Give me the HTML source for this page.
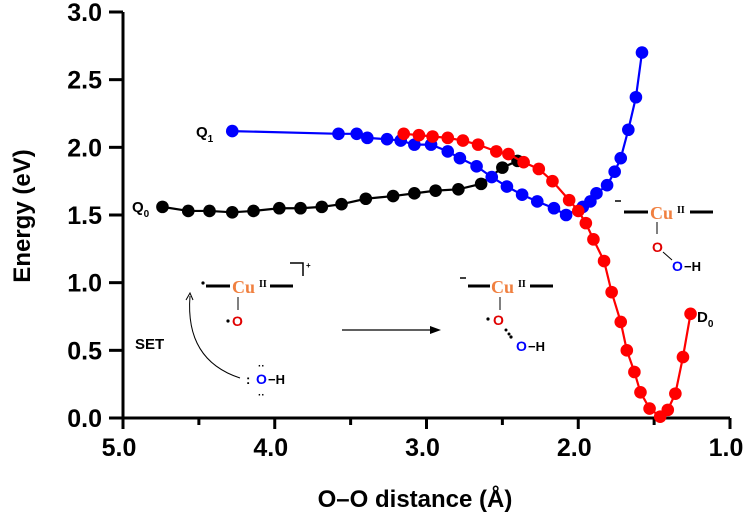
<!DOCTYPE html>
<html><head><meta charset="utf-8"><style>
html,body{margin:0;padding:0;background:#fff}
svg{display:block}
.ss{font-family:"Liberation Sans",sans-serif}
.sf{font-family:"Liberation Serif",serif}
</style></head><body>
<svg id="chart" width="750" height="526" viewBox="0 0 750 526" xmlns="http://www.w3.org/2000/svg">
<g id="axes" class="ss"></g>
<g id="series"></g>
<g id="annot" font-weight="bold" class="ss">
  <text x="196" y="137" font-size="15">Q<tspan font-size="10" dy="5">1</tspan></text>
  <text x="132" y="212" font-size="15">Q<tspan font-size="10" dy="5">0</tspan></text>
  <text x="697" y="322" font-size="15">D<tspan font-size="10" dy="5">0</tspan></text>
  <!-- left complex -->
  <circle cx="203" cy="283" r="1.6" fill="#000"/>
  <line x1="206" y1="286" x2="230" y2="286" stroke="#000" stroke-width="3"/>
  <text x="232" y="293" font-size="18" fill="#f08040" class="sf">Cu</text>
  <text x="259" y="287" font-size="10" class="sf">II</text>
  <line x1="270" y1="286" x2="293" y2="286" stroke="#000" stroke-width="3"/>
  <path d="M290 263 H303 V276" fill="none" stroke="#000" stroke-width="1.5"/>
  <text x="306" y="268" font-size="8">+</text>
  <line x1="238" y1="297" x2="238" y2="310" stroke="#000" stroke-width="1"/>
  <circle cx="228" cy="321" r="1.6" fill="#000"/>
  <text x="232" y="326" font-size="14" fill="#e00000">O</text>
  <text x="135" y="349" font-size="15">SET</text>
  <path d="M240 378 Q185 360 190 296" fill="none" stroke="#000" stroke-width="1"/>
  <path d="M186 300 L190 293 L193 300" fill="none" stroke="#000" stroke-width="1"/>
  <text x="246" y="384" font-size="13">:</text>
  <text x="256" y="384" font-size="14" fill="#0000ff">O</text>
  <text x="268" y="384" font-size="13">−H</text>
  <text x="258" y="369" font-size="10">··</text>
  <text x="258" y="398" font-size="10">··</text>
  <!-- arrow -->
  <line x1="342" y1="330" x2="436" y2="330" stroke="#000" stroke-width="1.2"/>
  <path d="M430 326 L441 330 L430 334 Z" fill="#000"/>
  <!-- middle complex -->
  <line x1="460" y1="278" x2="466" y2="278" stroke="#000" stroke-width="1.5"/>
  <line x1="468" y1="286" x2="490" y2="286" stroke="#000" stroke-width="3"/>
  <text x="491" y="293" font-size="18" fill="#f08040" class="sf">Cu</text>
  <text x="518" y="287" font-size="10" class="sf">II</text>
  <line x1="530" y1="286" x2="553" y2="286" stroke="#000" stroke-width="3"/>
  <line x1="500" y1="297" x2="500" y2="310" stroke="#000" stroke-width="1"/>
  <circle cx="488" cy="319" r="1.6" fill="#000"/>
  <text x="493" y="325" font-size="14" fill="#e00000">O</text>
  <circle cx="506" cy="330" r="1.5" fill="#000"/>
  <circle cx="509" cy="334" r="1.5" fill="#000"/>
  <circle cx="511" cy="337" r="1.6" fill="#000"/>
  <text x="516" y="351" font-size="14" fill="#0000ff">O</text>
  <text x="528" y="351" font-size="13">−H</text>
  <!-- right complex -->
  <line x1="615" y1="201" x2="621" y2="201" stroke="#000" stroke-width="1.5"/>
  <line x1="624" y1="212" x2="648" y2="212" stroke="#000" stroke-width="3"/>
  <text x="650" y="219" font-size="18" fill="#f08040" class="sf">Cu</text>
  <text x="677" y="213" font-size="10" class="sf">II</text>
  <line x1="690" y1="212" x2="713" y2="212" stroke="#000" stroke-width="3"/>
  <line x1="657" y1="222" x2="657" y2="234" stroke="#000" stroke-width="1"/>
  <text x="652" y="252" font-size="14" fill="#e00000">O</text>
  <line x1="663" y1="252" x2="672" y2="260" stroke="#000" stroke-width="1"/>
  <text x="672" y="271" font-size="14" fill="#0000ff">O</text>
  <text x="684" y="271" font-size="13">−H</text>
</g>
</svg>
<script>
const ticksX = [5.0, 4.0, 3.0, 2.0, 1.0];
const minorX = [4.5, 3.5, 2.5, 1.5];
const ticksY = [0.0, 0.5, 1.0, 1.5, 2.0, 2.5, 3.0];
const q0X = [4.74,4.57,4.43,4.28,4.14,3.97,3.83,3.69,3.56,3.40,3.22,3.08,2.94,2.79,2.64,2.50,2.40];
const q0Y = [1.56,1.53,1.53,1.52,1.53,1.55,1.55,1.56,1.58,1.62,1.64,1.66,1.68,1.69,1.73,1.85,1.90];
const q1X = [4.28,3.58,3.46,3.39,3.26,3.17,3.08,2.97,2.86,2.78,2.67,2.57,2.47,2.37,2.27,2.16,2.08,1.97,1.92,1.88,1.81,1.76,1.72,1.67,1.62,1.58];
const q1Y = [2.12,2.10,2.10,2.07,2.06,2.05,2.02,2.02,1.97,1.92,1.86,1.78,1.71,1.65,1.60,1.55,1.50,1.56,1.60,1.66,1.72,1.82,1.92,2.13,2.37,2.70];
const d0X = [3.15,3.05,2.96,2.86,2.76,2.66,2.54,2.46,2.36,2.26,2.17,2.06,2.00,1.95,1.90,1.83,1.78,1.72,1.68,1.63,1.59,1.53,1.46,1.41,1.36,1.31,1.26];
const d0Y = [2.10,2.09,2.08,2.07,2.05,2.02,1.97,1.95,1.89,1.84,1.75,1.61,1.53,1.44,1.32,1.16,0.93,0.71,0.50,0.34,0.19,0.07,0.01,0.06,0.18,0.45,0.77];

const X0=123, X1=730, Y0=418, Y1=12;
function sx(v){return X0+(5-v)/4*(X1-X0);}
function sy(v){return Y0-v/3*(Y0-Y1);}
const NS="http://www.w3.org/2000/svg";
function mk(tag,attrs,parent){const e=document.createElementNS(NS,tag);for(const k in attrs)e.setAttribute(k,attrs[k]);parent.appendChild(e);return e;}
const axes=document.getElementById('axes');
let l=mk('line',{x1:X0,y1:Y0,x2:X1,y2:Y0,stroke:'#000','stroke-width':3},axes);


l=mk('line',{x1:X0,y1:Y0,x2:X0,y2:Y1,stroke:'#000','stroke-width':3},axes);


ticksX.forEach(v=>{
  const x=sx(v);
  const t=mk('line',{x1:x,y1:Y0,x2:x,y2:Y0+11,stroke:'#000','stroke-width':3},axes);
  
  
  const tx=mk('text',{x:x-4,y:Y0+38,'font-size':25,'font-weight':'bold','text-anchor':'middle'},axes);
  tx.textContent=v.toFixed(1);
  
  
});
minorX.forEach(v=>{
  const x=sx(v);
  const t=mk('line',{x1:x,y1:Y0,x2:x,y2:Y0+7,stroke:'#000','stroke-width':3},axes);
  
  
});
ticksY.forEach(v=>{
  const y=sy(v);
  const t=mk('line',{x1:X0-14,y1:y,x2:X0,y2:y,stroke:'#000','stroke-width':3},axes);
  
  
  const tx=mk('text',{x:X0-21,y:y+9,'font-size':25,'font-weight':'bold','text-anchor':'end'},axes);
  tx.textContent=v.toFixed(1);
  
  
});
let tt=mk('text',{x:415,y:507,'font-size':24,'font-weight':'bold','text-anchor':'middle'},axes);
tt.textContent='O–O distance (Å)';


tt=mk('text',{x:0,y:0,'font-size':24,'font-weight':'bold','text-anchor':'middle',transform:'translate(30,216) rotate(-90)'},axes);
tt.textContent='Energy (eV)';



const series=document.getElementById('series');
function draw(xs,ys,color,name){
  const g=mk('g',{},series);
  
  
  const pts=xs.map((v,i)=>sx(v)+','+sy(ys[i])).join(' ');
  const pl=mk('polyline',{points:pts,fill:'none',stroke:color,'stroke-width':2.2},g);
  
  
  xs.forEach((v,i)=>{
    const c=mk('circle',{cx:sx(v),cy:sy(ys[i]),r:6.3,fill:color},g);
    
    
  });
}
draw(q0X,q0Y,'#000000','q0');
draw(q1X,q1Y,'#0000ff','q1');
draw(d0X,d0Y,'#ff0000','d0');
</script>
</body></html>
